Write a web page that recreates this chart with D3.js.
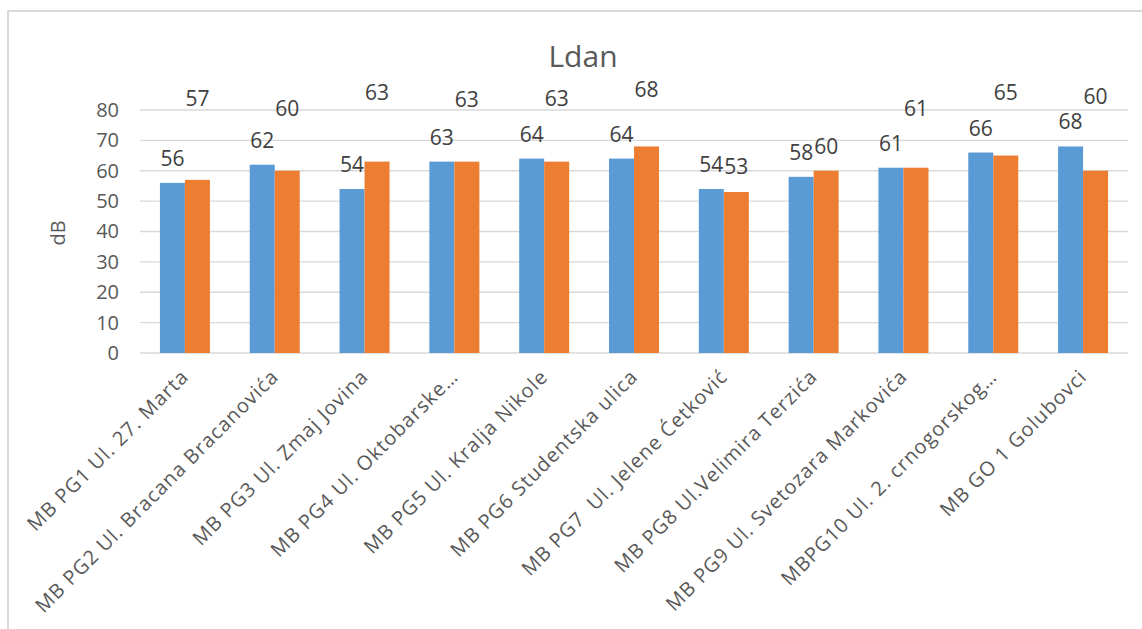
<!DOCTYPE html>
<html>
<head>
<meta charset="utf-8">
<script src="https://cdn.jsdelivr.net/npm/d3@7"></script>
<style>
  html, body { margin: 0; padding: 0; background: #fff; }
  svg { display: block; }
  text { font-family: "Open Sans", "Liberation Sans", sans-serif; }
</style>
</head>
<body>
<svg id="chart" width="1142" height="629"></svg>
<script>
// ---- data ----
const categories = [
  "MB PG1 Ul. 27. Marta",
  "MB PG2 Ul. Bracana Bracanovića",
  "MB PG3 Ul. Zmaj Jovina",
  "MB PG4 Ul. Oktobarske…",
  "MB PG5 Ul. Kralja Nikole",
  "MB PG6 Studentska ulica",
  "MB PG7  Ul. Jelene Ćetković",
  "MB PG8 Ul.Velimira Terzića",
  "MB PG9 Ul. Svetozara Markovića",
  "MBPG10 Ul. 2. crnogorskog…",
  "MB GO 1 Golubovci"
];
const seriesBlue   = [56, 62, 54, 63, 64, 64, 54, 58, 61, 66, 68];
const seriesOrange = [57, 60, 63, 63, 63, 68, 53, 60, 61, 65, 60];
const yTicks = [0, 10, 20, 30, 40, 50, 60, 70, 80];
const title = "Ldan";
const yTitle = "dB";

// label layout (how far above bar top each orange label sits, px)
const orangeLabelLift = [81, 62, 69, 62, 63, 56, 25, 24, 59, 63, 74];
const blueLabelLift = 24;

// ---- layout ----
const svg = d3.select("#chart");
const plot = { left: 140, right: 1128, top: 110, bottom: 353 };

// chart border (left and top visible)
svg.append("rect")
  .attr("x", 8).attr("y", 11)
  .attr("width", 1160).attr("height", 640)
  .attr("fill", "none").attr("stroke", "#d9d9d9").attr("stroke-width", 2);

const x = d3.scaleBand().domain(categories).range([plot.left, plot.right]).paddingInner(0).paddingOuter(0);
const barW = 25;
const y = d3.scaleLinear().domain([0, 80]).range([plot.bottom, plot.top]);

// gridlines
svg.append("g").selectAll("line").data(yTicks).join("line")
  .attr("x1", plot.left).attr("x2", plot.right)
  .attr("y1", d => y(d)).attr("y2", d => y(d))
  .attr("stroke", "#d9d9d9").attr("stroke-width", 1.3);

// y axis tick labels
const yAxis = d3.axisLeft(y).tickValues(yTicks).tickSize(0).tickPadding(0);
const gy = svg.append("g").attr("transform", `translate(119,0)`).call(yAxis);
gy.select(".domain").remove();
gy.selectAll("text").attr("font-size", 20).attr("fill", "#595959")
  .attr("font-family", "\"Open Sans\", sans-serif");

// bars
const gBars = svg.append("g");
gBars.selectAll("rect.blue").data(seriesBlue).join("rect").attr("class", "blue")
  .attr("x", (d, i) => x(categories[i]) + x.bandwidth() / 2 - barW)
  .attr("y", d => y(d)).attr("width", barW).attr("height", d => y(0) - y(d))
  .attr("fill", "#5b9bd5");
gBars.selectAll("rect.orange").data(seriesOrange).join("rect").attr("class", "orange")
  .attr("x", (d, i) => x(categories[i]) + x.bandwidth() / 2)
  .attr("y", d => y(d)).attr("width", barW).attr("height", d => y(0) - y(d))
  .attr("fill", "#ed7d31");

// data labels
const gLab = svg.append("g").attr("font-size", 21).attr("fill", "#404040").attr("text-anchor", "middle");
gLab.selectAll("text.bl").data(seriesBlue).join("text").attr("class", "bl")
  .attr("x", (d, i) => x(categories[i]) + x.bandwidth() / 2 - barW / 2)
  .attr("y", d => y(d) - blueLabelLift + 7)
  .text(d => d);
gLab.selectAll("text.or").data(seriesOrange).join("text").attr("class", "or")
  .attr("x", (d, i) => x(categories[i]) + x.bandwidth() / 2 + barW / 2)
  .attr("y", (d, i) => y(d) - orangeLabelLift[i] + 7)
  .text(d => d);

// x axis category labels
const gx = svg.append("g");
gx.selectAll("text").data(categories).join("text")
  .attr("transform", d => `translate(${x(d) + x.bandwidth() / 2 + 5},378) rotate(-45)`)
  .attr("text-anchor", "end")
  .attr("font-size", 20).attr("fill", "#595959")
  .attr("letter-spacing", 1.0)
  .attr("xml:space", "preserve")
  .style("white-space", "pre")
  .text(d => d);

// title
svg.append("text").attr("x", 583).attr("y", 67).attr("text-anchor", "middle")
  .attr("font-size", 30).attr("fill", "#595959").text(title);

// y axis title
svg.append("text").attr("transform", "translate(65,233) rotate(-90)")
  .attr("text-anchor", "middle").attr("font-size", 20).attr("fill", "#595959").text(yTitle);
</script>
</body>
</html>
